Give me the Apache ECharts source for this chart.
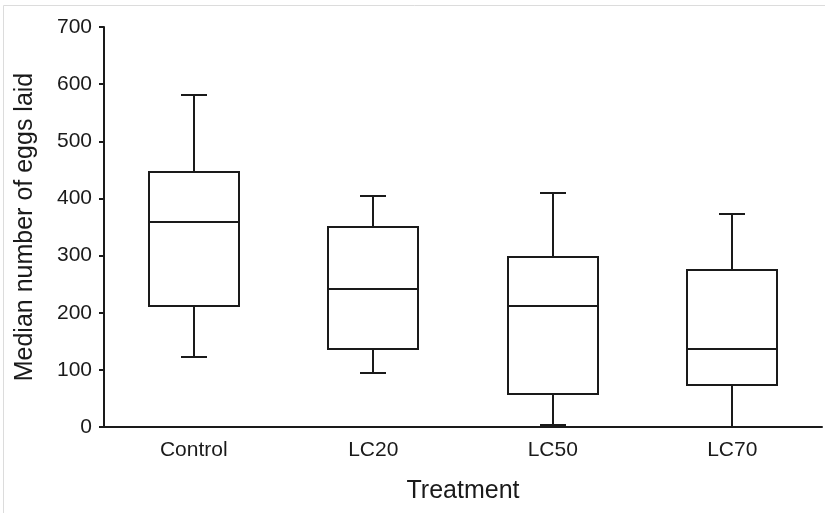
<!DOCTYPE html>
<html>
<head>
<meta charset="utf-8">
<title>Median number of eggs laid by treatment</title>
<script src="https://cdn.jsdelivr.net/npm/echarts@6/dist/echarts.min.js"></script>
<style>
  html, body { margin: 0; padding: 0; background: #ffffff; }
  #chart { width: 825px; height: 513px; }
</style>
</head>
<body>
<div id="chart"></div>
<script>
// Treatment groups and their five-number summaries (eggs laid)
const categories = ['Control', 'LC20', 'LC50', 'LC70'];
const whiskerLow = [122, 95, 3, 0];
const quartile1 = [212, 137, 58, 74];
const medians = [358, 241, 212, 136];
const quartile3 = [447, 350, 298, 274];
const whiskerHigh = [581, 404, 410, 373];
const yTicks = [0, 100, 200, 300, 400, 500, 600, 700];

const INK = '#1a1a1a';
const FONT = '"Liberation Sans", Arial, sans-serif';

const boxData = categories.map((c, i) => [
  i, whiskerLow[i], quartile1[i], medians[i], quartile3[i], whiskerHigh[i]
]);

// Box with median line and capped whiskers, placed through the axis scales
function renderBox(params, api) {
  const i = api.value(0);
  const band = api.size([1, 0])[0];
  const half = band * 0.25;
  const capHalf = band * 0.073;
  const pLo = api.coord([i, api.value(1)]);
  const pQ1 = api.coord([i, api.value(2)]);
  const pMed = api.coord([i, api.value(3)]);
  const pQ3 = api.coord([i, api.value(4)]);
  const pHi = api.coord([i, api.value(5)]);
  const x = Math.round(pMed[0]);
  const r = v => Math.round(v);
  const lineStyle = { stroke: INK, lineWidth: 2, fill: null };
  return {
    type: 'group',
    children: [
      { type: 'line', shape: { x1: x, y1: r(pQ3[1]), x2: x, y2: r(pHi[1]) }, style: lineStyle },
      { type: 'line', shape: { x1: r(x - capHalf), y1: r(pHi[1]), x2: r(x + capHalf), y2: r(pHi[1]) }, style: lineStyle },
      { type: 'line', shape: { x1: x, y1: r(pQ1[1]), x2: x, y2: r(pLo[1]) }, style: lineStyle },
      { type: 'line', shape: { x1: r(x - capHalf), y1: r(pLo[1]), x2: r(x + capHalf), y2: r(pLo[1]) }, style: lineStyle },
      {
        type: 'rect',
        shape: { x: r(x - half), y: r(pQ3[1]), width: r(2 * half), height: r(pQ1[1]) - r(pQ3[1]) },
        style: { stroke: INK, lineWidth: 2, fill: '#ffffff' }
      },
      { type: 'line', shape: { x1: r(x - half), y1: r(pMed[1]), x2: r(x + half), y2: r(pMed[1]) }, style: lineStyle }
    ]
  };
}

const chart = echarts.init(document.getElementById('chart'), null, { renderer: 'canvas' });
chart.setOption({
  backgroundColor: '#ffffff',
  animation: false,
  textStyle: { fontFamily: FONT, color: INK },
  graphic: [
    { type: 'line', shape: { x1: 3.5, y1: 5.5, x2: 825, y2: 5.5 }, style: { stroke: '#dcdcdc', lineWidth: 1 } },
    { type: 'line', shape: { x1: 3.5, y1: 5.5, x2: 3.5, y2: 513 }, style: { stroke: '#dcdcdc', lineWidth: 1 } }
  ],
  grid: { left: 104, right: 3, top: 27, bottom: 86, containLabel: false },
  xAxis: {
    type: 'category',
    data: categories,
    boundaryGap: true,
    name: 'Treatment',
    nameLocation: 'middle',
    nameGap: 52,
    nameTextStyle: { fontFamily: FONT, fontSize: 25, color: INK },
    axisLine: { show: true, lineStyle: { color: INK, width: 2 } },
    axisTick: { show: false },
    axisLabel: { fontFamily: FONT, fontSize: 21, color: INK, margin: 13 },
    splitLine: { show: false }
  },
  yAxis: {
    type: 'value',
    min: yTicks[0],
    max: yTicks[yTicks.length - 1],
    interval: yTicks[1] - yTicks[0],
    name: 'Median number of eggs laid',
    nameLocation: 'middle',
    nameRotate: 90,
    nameGap: 66,
    nameTextStyle: { fontFamily: FONT, fontSize: 25, color: INK },
    axisLine: { show: true, lineStyle: { color: INK, width: 2 } },
    axisTick: { show: true, inside: false, length: 5, lineStyle: { color: INK, width: 2 } },
    axisLabel: { fontFamily: FONT, fontSize: 21, color: INK, margin: 12 },
    splitLine: { show: false }
  },
  series: [{
    type: 'custom',
    renderItem: renderBox,
    data: boxData,
    encode: { x: 0, y: [1, 2, 3, 4, 5] },
    clip: false,
    z: 3
  }]
});
</script>
</body>
</html>
